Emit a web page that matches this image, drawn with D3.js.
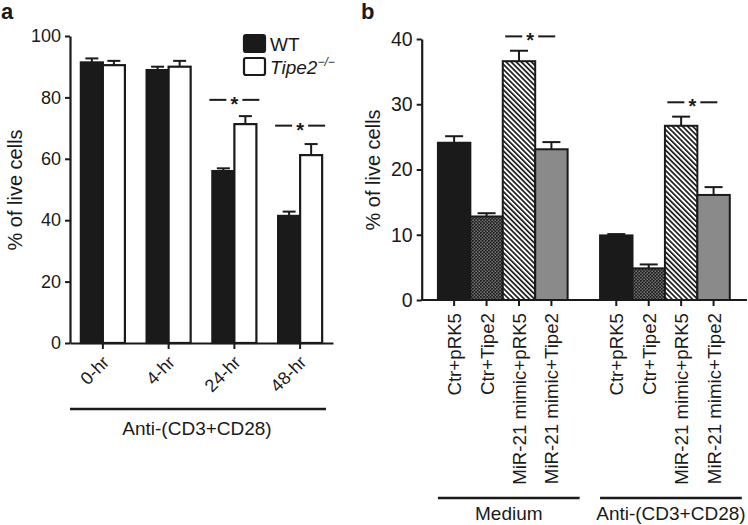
<!DOCTYPE html>
<html><head><meta charset="utf-8">
<script src="https://cdn.jsdelivr.net/npm/d3@7"></script>
<style>
body{margin:0;background:#fff}
svg{display:block}
text{font-family:"Liberation Sans",Arial,Helvetica,sans-serif;fill:#1a1a1a}
</style>
</head><body><svg id="c" width="748" height="525"></svg>
<script>
// ---------- Panel a data ----------
const timepoints = ["0-hr", "4-hr", "24-hr", "48-hr"];
const seriesA = ["WT", "Tipe2"];
const wtMean = [91.4, 88.9, 56.0, 41.4];
const wtErr  = [1.3, 1.1, 0.9, 1.4];
const koMean = [90.5, 90.0, 71.3, 61.2];
const koErr  = [1.4, 1.9, 2.6, 3.6];
const ticksA = [0, 20, 40, 60, 80, 100];
const sigA = [{group: "24-hr", level: 79.2}, {group: "48-hr", level: 70.8}];
const groupLabelA = "Anti-(CD3+CD28)";

// ---------- Panel b data ----------
const conditions = ["Medium", "Anti-(CD3+CD28)"];
const treatments = ["Ctr+pRK5", "Ctr+Tipe2", "MiR-21 mimic+pRK5", "MiR-21 mimic+Tipe2"];
const mediumMean = [24.1, 12.8, 36.6, 23.1];
const mediumErr  = [1.0, 0.5, 1.6, 1.1];
const antiMean   = [9.9, 4.85, 26.7, 16.1];
const antiErr    = [0.2, 0.6, 1.4, 1.2];
const ticksB = [0, 10, 20, 30, 40];
const sigB = [{group: "Medium", level: 40.4}, {group: "Anti-(CD3+CD28)", level: 30.3}];

const INK = "#1a1a1a";
const svg = d3.select("#c");

// patterns
const defs = svg.append("defs");
const hatch = defs.append("pattern").attr("id", "hatch").attr("patternUnits", "userSpaceOnUse")
  .attr("width", 3.6).attr("height", 3.6).attr("patternTransform", "rotate(-45)");
hatch.append("rect").attr("width", 3.6).attr("height", 3.6).attr("fill", "#fff");
hatch.append("rect").attr("width", 1.7).attr("height", 3.6).attr("fill", INK);
const check = defs.append("pattern").attr("id", "check").attr("patternUnits", "userSpaceOnUse")
  .attr("width", 3.2).attr("height", 3.2);
check.append("rect").attr("width", 3.2).attr("height", 3.2).attr("fill", "#1e1e1e");
check.append("rect").attr("x", 0.4).attr("y", 0.4).attr("width", 1.0).attr("height", 1.0).attr("fill", "#ddd");
check.append("rect").attr("x", 2.0).attr("y", 2.0).attr("width", 1.0).attr("height", 1.0).attr("fill", "#ddd");

function styleAxis(g, fs) {
  g.selectAll(".domain").attr("stroke", INK).attr("stroke-width", 2.2);
  g.selectAll(".tick line").attr("stroke", INK).attr("stroke-width", 2);
  g.selectAll(".tick text").attr("font-size", fs).attr("fill", INK)
    .style("font-family", '"Liberation Sans",Arial,sans-serif');
}
function sig(g, cx, cy) {
  g.append("line").attr("x1", cx - 25).attr("x2", cx - 8).attr("y1", cy).attr("y2", cy)
    .attr("stroke", INK).attr("stroke-width", 2);
  g.append("line").attr("x1", cx + 8).attr("x2", cx + 25).attr("y1", cy).attr("y2", cy)
    .attr("stroke", INK).attr("stroke-width", 2);
  g.append("text").attr("x", cx).attr("y", cy + 11).attr("text-anchor", "middle")
    .attr("font-size", 20).attr("font-weight", "bold").text("*");
}

// ================= Panel a =================
const gA = svg.append("g");
const yA = d3.scaleLinear([0, 100], [343, 36]);
const xA = d3.scaleBand(timepoints, [70, 333]).paddingInner(0.33).paddingOuter(0.165);
const xAin = d3.scaleBand(seriesA, [0, xA.bandwidth()]);

const dataA = [];
timepoints.forEach((t, i) => {
  dataA.push({t, s: "WT", v: wtMean[i], e: wtErr[i]});
  dataA.push({t, s: "Tipe2", v: koMean[i], e: koErr[i]});
});
const fillA = {WT: INK, Tipe2: "#fff"};
const capA = 6.5;
dataA.forEach(d => {
  const cx = xA(d.t) + xAin(d.s) + xAin.bandwidth() / 2;
  gA.append("line").attr("x1", cx).attr("x2", cx).attr("y1", yA(d.v)).attr("y2", yA(d.v + d.e))
    .attr("stroke", INK).attr("stroke-width", 2);
  gA.append("line").attr("x1", cx - capA).attr("x2", cx + capA).attr("y1", yA(d.v + d.e)).attr("y2", yA(d.v + d.e))
    .attr("stroke", INK).attr("stroke-width", 2);
});
gA.selectAll("rect.bar").data(dataA).join("rect").attr("class", "bar")
  .attr("x", d => xA(d.t) + xAin(d.s))
  .attr("width", xAin.bandwidth())
  .attr("y", d => yA(d.v))
  .attr("height", d => yA(0) - yA(d.v))
  .attr("fill", d => fillA[d.s]).attr("stroke", INK).attr("stroke-width", 2.2);

const yAxA = gA.append("g").attr("transform", "translate(70,0)")
  .call(d3.axisLeft(yA).tickValues(ticksA).tickSize(5).tickSizeOuter(0).tickPadding(4));
styleAxis(yAxA, 18);
const xAxA = gA.append("g").attr("transform", "translate(0,343)")
  .call(d3.axisBottom(xA).tickSize(6).tickSizeOuter(0));
styleAxis(xAxA, 18);
xAxA.selectAll(".tick text").attr("x", 0).attr("y", 0).attr("dy", "0.35em")
  .attr("text-anchor", "end").attr("transform", "translate(3,16) rotate(-45)");

sigA.forEach(s => sig(gA, xA(s.group) + xA.bandwidth() / 2, yA(s.level)));

gA.append("line").attr("x1", 70).attr("x2", 326).attr("y1", 409).attr("y2", 409)
  .attr("stroke", INK).attr("stroke-width", 2.5);
gA.append("text").attr("x", 197).attr("y", 435).attr("text-anchor", "middle")
  .attr("font-size", 19).text(groupLabelA);
gA.append("text").attr("transform", "translate(22,190) rotate(-90)").attr("text-anchor", "middle")
  .attr("font-size", 20).text("% of live cells");
gA.append("text").attr("x", 1).attr("y", 19).attr("font-size", 22).attr("font-weight", "bold").text("a");

// legend
const legA = gA.append("g");
seriesA.forEach((s, i) => {
  legA.append("rect").attr("x", 244).attr("y", 35 + i * 23).attr("width", 21).attr("height", 17)
    .attr("rx", 2).attr("fill", fillA[s]).attr("stroke", INK).attr("stroke-width", 2.2);
});
legA.append("text").attr("x", 270).attr("y", 51).attr("font-size", 19).text("WT");
const tt = legA.append("text").attr("x", 270).attr("y", 74).attr("font-size", 19).attr("font-style", "italic");
tt.append("tspan").text("Tipe2");
tt.append("tspan").attr("dy", -8).attr("font-size", 12).text("\u2212/\u2212");

// ================= Panel b =================
const gB = svg.append("g");
const yB = d3.scaleLinear([0, 40], [300, 39]);
const xB = d3.scaleBand(conditions, [421.7, 746]).paddingInner(0.2).paddingOuter(0.1);
const xBin = d3.scaleBand(treatments, [0, xB.bandwidth()]);
const fillB = {"Ctr+pRK5": INK, "Ctr+Tipe2": "url(#check)", "MiR-21 mimic+pRK5": "url(#hatch)", "MiR-21 mimic+Tipe2": "#8a8a8a"};

const dataB = [];
treatments.forEach((t, i) => {
  dataB.push({c: "Medium", t, v: mediumMean[i], e: mediumErr[i]});
});
treatments.forEach((t, i) => {
  dataB.push({c: "Anti-(CD3+CD28)", t, v: antiMean[i], e: antiErr[i]});
});
const capB = 9;
dataB.forEach(d => {
  const cx = xB(d.c) + xBin(d.t) + xBin.bandwidth() / 2;
  gB.append("line").attr("x1", cx).attr("x2", cx).attr("y1", yB(d.v)).attr("y2", yB(d.v + d.e))
    .attr("stroke", INK).attr("stroke-width", 2);
  gB.append("line").attr("x1", cx - capB).attr("x2", cx + capB).attr("y1", yB(d.v + d.e)).attr("y2", yB(d.v + d.e))
    .attr("stroke", INK).attr("stroke-width", 2);
});
gB.selectAll("rect.bar").data(dataB).join("rect").attr("class", "bar")
  .attr("x", d => xB(d.c) + xBin(d.t))
  .attr("width", xBin.bandwidth())
  .attr("y", d => yB(d.v))
  .attr("height", d => yB(0) - yB(d.v))
  .attr("fill", d => fillB[d.t]).attr("stroke", INK).attr("stroke-width", 2);

const yAxB = gB.append("g").attr("transform", "translate(421.7,0)")
  .call(d3.axisLeft(yB).tickValues(ticksB).tickSize(5).tickSizeOuter(0).tickPadding(4));
styleAxis(yAxB, 19.5);
const xDomB = gB.append("g").attr("transform", "translate(0,300)")
  .call(d3.axisBottom(xB).tickSize(0).tickSizeOuter(0).tickFormat(""));
xDomB.selectAll(".tick").remove();
xDomB.select(".domain").attr("d", "M421.7,0H747");
styleAxis(xDomB, 19);
conditions.forEach(c => {
  const ax = gB.append("g").attr("transform", `translate(${xB(c)},300)`)
    .call(d3.axisBottom(xBin).tickSize(6).tickSizeOuter(0));
  ax.select(".domain").remove();
  styleAxis(ax, 18.7);
  ax.selectAll(".tick text").attr("x", 0).attr("y", 0).attr("dy", 0)
    .attr("text-anchor", "end").attr("transform", "translate(7,13) rotate(-90)");
  gB.append("line").attr("x1", xB(c)).attr("x2", xB(c) + xB.bandwidth() + 12).attr("y1", 498).attr("y2", 498)
    .attr("stroke", INK).attr("stroke-width", 2.5);
  gB.append("text").attr("x", xB(c) + xB.bandwidth() / 2 + 6).attr("y", 520).attr("text-anchor", "middle")
    .attr("font-size", 19).text(c);
});

sigB.forEach(s => sig(gB, xB(s.group) + xBin(treatments[3]) - 5, yB(s.level)));

gB.append("text").attr("transform", "translate(380,170) rotate(-90)").attr("text-anchor", "middle")
  .attr("font-size", 20).text("% of live cells");
gB.append("text").attr("x", 361).attr("y", 19).attr("font-size", 22).attr("font-weight", "bold").text("b");
</script>
</body></html>
